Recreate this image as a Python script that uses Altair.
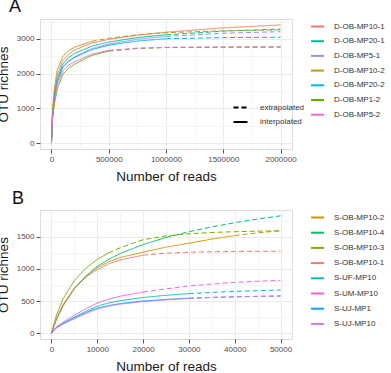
import altair as alt
import pandas as pd

FONT = "Liberation Sans"

# ---------------- Panel A ----------------
a_x = [0, 10000, 25000, 50000, 100000, 150000, 200000, 350000, 500000,
       750000, 1000000, 1500000, 2000000]
a_samples = ["D-OB-MP10-1", "D-OB-MP20-1", "D-OB-MP5-1", "D-OB-MP10-2",
             "D-OB-MP20-2", "D-OB-MP1-2", "D-OB-MP5-2"]
a_colors = ["#F8766D", "#00C094", "#A58AFF", "#C49A00", "#00B6EB",
            "#53B400", "#FB61D7"]
a_mp10_1 = [0, 900, 1400, 1950, 2380, 2560, 2680, 2880, 2990, 3110, 3195, 3320, 3405]
a_mp20_1 = [0, 850, 1330, 1850, 2280, 2460, 2580, 2790, 2910, 3040, 3120, 3225, 3285]
a_mp5_1 = [0, 820, 1280, 1780, 2200, 2370, 2480, 2720, 2850, 2990, 3070, 3165, 3210]
a_mp10_2 = [0, 1000, 1550, 2100, 2500, 2660, 2760, 2930, 3020, 3120, 3180, 3235, 3260]
a_mp20_2 = [0, 820, 1280, 1770, 2180, 2350, 2460, 2690, 2820, 2940, 3005, 3040, 3050]
a_mp1_2 = [0, 700, 1100, 1560, 1980, 2160, 2270, 2520, 2650, 2725, 2752, 2762, 2765]
a_mp5_2 = [0, 780, 1220, 1680, 2080, 2240, 2340, 2560, 2670, 2735, 2758, 2770, 2775]
a_values = [a_mp10_1, a_mp20_1, a_mp5_1, a_mp10_2, a_mp20_2, a_mp1_2, a_mp5_2]
a_obs = [2000000, 1000000, 1000000, 350000, 1000000, 500000, 500000]

# ---------------- Panel B ----------------
b_x = [0, 1000, 2500, 5000, 7500, 10000, 12500, 15000, 20000, 25000,
       30000, 35000, 40000, 45000, 50000]
b_samples = ["S-OB-MP10-2", "S-OB-MP10-4", "S-OB-MP10-3", "S-OB-MP10-1",
             "S-UF-MP10", "S-UM-MP10", "S-UJ-MP1", "S-UJ-MP10"]
b_colors = ["#CD9600", "#00BE67", "#7CAE00", "#F8766D", "#00BFC4",
            "#FF61CC", "#00A9FF", "#C77CFF"]
b_mp10_2 = [0, 200, 420, 690, 880, 1020, 1110, 1180, 1260, 1340, 1400, 1465, 1520, 1562, 1594]
b_mp10_4 = [0, 200, 430, 700, 890, 1040, 1150, 1240, 1380, 1490, 1580, 1655, 1720, 1778, 1827]
b_mp10_3 = [0, 260, 530, 820, 1010, 1150, 1250, 1330, 1455, 1515, 1548, 1568, 1580, 1588, 1594]
b_mp10_1 = [0, 210, 440, 700, 870, 990, 1080, 1140, 1215, 1245, 1260, 1268, 1272, 1274, 1275]
b_uf = [0, 85, 155, 250, 340, 420, 470, 505, 555, 590, 615, 635, 650, 662, 672]
b_um = [0, 90, 170, 280, 380, 470, 530, 575, 640, 690, 735, 765, 790, 808, 822]
b_uj1 = [0, 80, 145, 235, 320, 390, 430, 460, 500, 525, 545, 557, 566, 573, 578]
b_uj10 = [0, 78, 140, 225, 305, 375, 420, 452, 492, 520, 540, 555, 565, 573, 580]
b_values = [b_mp10_2, b_mp10_4, b_mp10_3, b_mp10_1, b_uf, b_um, b_uj1, b_uj10]
b_obs = [40000, 25000, 12500, 20000, 30000, 20000, 30000, 30000]

METHODS = ["extrapolated", "interpolated"]


def build(xs, names, values, obs):
    rows = []
    for name, vals, end in zip(names, values, obs):
        for x, v in zip(xs, vals):
            if x <= end:
                rows.append({"reads": x, "otu": v, "sample": name, "method": "interpolated"})
            if x >= end and end < xs[-1]:
                rows.append({"reads": x, "otu": v, "sample": name, "method": "extrapolated"})
    return pd.DataFrame(rows)


def make_axis(vals, major, title):
    minor = f"datum.value % {major} !== 0"
    return alt.Axis(
        values=vals, format="d", title=title,
        labelExpr=f"datum.value % {major} === 0 ? datum.label : ''",
        tickOpacity={"condition": {"test": minor, "value": 0}, "value": 1},
        gridWidth={"condition": {"test": minor, "value": 0.5}, "value": 1},
        gridColor="#EBEBEB", labelOverlap=False, labelFlush=False, domain=False,
        tickColor="#555555", tickSize=4, labelPadding=2,
        labelFontSize=8, labelColor="#4D4D4D", labelFont=FONT,
        titleFontSize=13.5, titleFontWeight="normal", titleColor="#1A1A1A",
        titleFont=FONT, titlePadding=6,
    )


def panel(df, xdom, xvals, xmajor, ydom, yvals, ymajor, names, colors,
          label, dx, dash_legend, h, row_pad):
    color_legend = alt.Legend(
        title=None, orient="right", symbolType="stroke", symbolSize=169,
        symbolStrokeWidth=2, labelFontSize=8, labelFont=FONT,
        labelColor="#333333", labelOffset=9, offset=18, padding=0,
        rowPadding=row_pad,
    )
    if dash_legend:
        sd_legend = alt.Legend(
            title=None, orient="none", legendX=192, legendY=80,
            symbolType="stroke", symbolSize=196, symbolStrokeWidth=2.2,
            symbolStrokeColor="black", labelFontSize=8, labelFont=FONT,
            labelColor="#333333", labelOffset=11, rowPadding=1.5,
        )
    else:
        sd_legend = None
    return alt.Chart(df).mark_line(strokeWidth=1, clip=True).encode(
        x=alt.X("reads:Q", scale=alt.Scale(domain=xdom, nice=False, zero=False),
                axis=make_axis(xvals, xmajor, "Number of reads")),
        y=alt.Y("otu:Q", scale=alt.Scale(domain=ydom, nice=False, zero=False),
                axis=make_axis(yvals, ymajor, "OTU richnes")),
        color=alt.Color("sample:N", scale=alt.Scale(domain=names, range=colors),
                        legend=color_legend),
        strokeDash=alt.StrokeDash("method:N",
                                  scale=alt.Scale(domain=METHODS, range=[[5, 3], [1, 0]]),
                                  legend=sd_legend),
        detail="sample:N",
    ).properties(
        width=252, height=h,
        title=alt.TitleParams(label, anchor="start", frame="group", dx=dx,
                              fontSize=18, fontWeight="normal", font=FONT,
                              color="#111111", offset=2),
    )


df_a = build(a_x, a_samples, a_values, a_obs)
df_b = build(b_x, b_samples, b_values, b_obs)

chart_a = panel(df_a, [-100000, 2100000], list(range(0, 2000001, 250000)), 500000,
                [-172, 3575], list(range(0, 3501, 500)), 1000,
                a_samples, a_colors, "A", -31, True, 130, 2.7)
chart_b = panel(df_b, [-2500, 52500], list(range(0, 50001, 5000)), 10000,
                [-91, 1918], list(range(0, 1751, 250)), 500,
                b_samples, b_colors, "B", -28, False, 129, 3.2)

chart = alt.vconcat(chart_a, chart_b, spacing=6).resolve_scale(
    color="independent", strokeDash="independent"
).configure_view(stroke="#9E9E9E", strokeWidth=1).configure(
    background="white",
    padding={"left": -5, "top": -3, "right": 0, "bottom": 0},
)

chart.save("out.html", embed_options={"renderer": "svg", "actions": False})
